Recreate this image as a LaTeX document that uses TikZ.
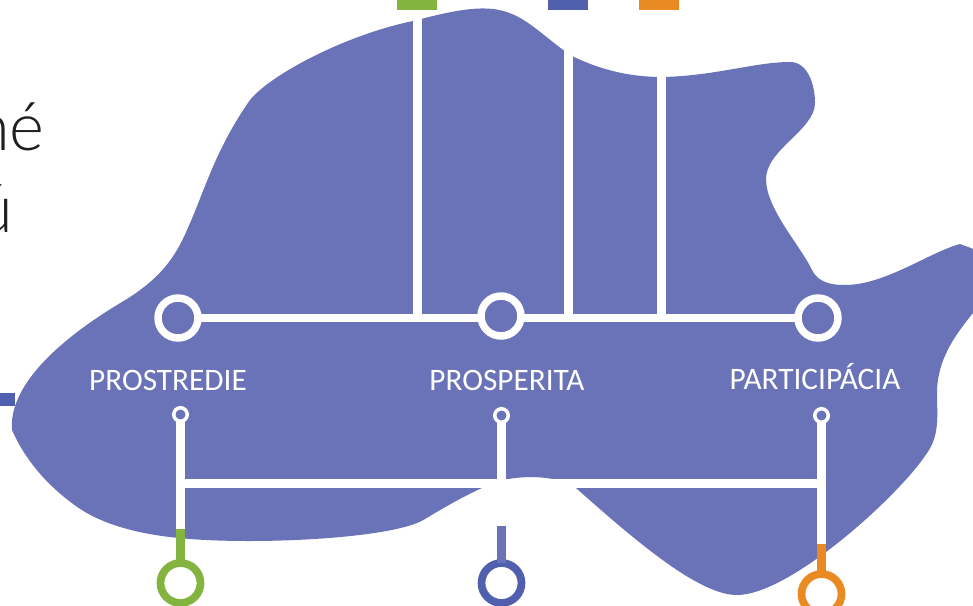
\documentclass[tikz,border=0pt]{standalone}
\usepackage{fontspec}
\setmainfont{Lato Light}
\newfontfamily\labelfont{Carlito}
\usepackage{tikz}
\definecolor{blob}{HTML}{6A73B8}
\definecolor{lgreen}{HTML}{84B440}
\definecolor{lblue}{HTML}{5060AE}
\definecolor{lorange}{HTML}{E98B22}
\tikzset{
  bigring/.style={circle,draw=white,line width=4.25pt,minimum size=0.8cm,inner sep=0pt,outer sep=0pt},
  smallring/.style={circle,draw=white,line width=2pt,minimum size=0.27cm,inner sep=0pt,outer sep=0pt},
  endring/.style={circle,draw=#1,line width=4.4pt,minimum size=0.8cm,inner sep=0pt,outer sep=0pt},
  wline/.style={white,line width=5.1pt},
  label/.style={white,font=\labelfont\fontsize{17.8}{19}\selectfont},
  bigtext/.style={anchor=base east,inner sep=0pt,text=black!88,font=\fontsize{38}{44}\selectfont},
}
\begin{document}
\begin{tikzpicture}[x=0.02cm,y=-0.02cm]
\clip (0,0) rectangle (973,605);
\fill[white] (0,0) rectangle (973,605);
\fill[blob] (12,428) .. controls (10,395) and (40,350) .. (127,299)
.. controls (160,278) and (175,258) .. (187,230)
.. controls (205,190) and (215,150) .. (250,100)
.. controls (270,75) and (345,35) .. (413,21)
.. controls (440,14) and (465,8) .. (485,8.5)
.. controls (520,9) and (535,30) .. (570,55)
.. controls (600,70) and (630,77) .. (662,77)
.. controls (715,76) and (755,62) .. (790,62)
.. controls (808,62) and (815,85) .. (815,103)
.. controls (815,130) and (765,150) .. (766,180)
.. controls (767,210) and (800,245) .. (812,270)
.. controls (818,282) and (830,285) .. (845,285)
.. controls (885,285) and (930,252) .. (960,244)
.. controls (975,250) and (985,250) .. (985,270)
.. controls (985,290) and (985,298) .. (973,313)
.. controls (955,335) and (937,360) .. (937,393)
.. controls (937,415) and (940,435) .. (927,453)
.. controls (900,495) and (790,595) .. (737,595)
.. controls (700,595) and (640,545) .. (576,488)
.. controls (560,475) and (510,472) .. (482,488)
.. controls (460,498) and (440,510) .. (425,519)
.. controls (400,535) and (310,541) .. (250,541)
.. controls (180,541) and (125,535) .. (85,512)
.. controls (50,490) and (25,460) .. (12,430) -- cycle;
\fill[lgreen] (397,0) rectangle (437,10);
\fill[lblue] (548,0) rectangle (588,10);
\fill[lorange] (639,0) rectangle (679,10);
\fill[lblue] (0,393) rectangle (15,406);
\node[bigtext] (ne) at (45,150) {né};
\node[bigtext] (u) at (14,232) {ú};
\node[bigring] (p1) at (178,318) {};
\node[bigring] (p2) at (501,316) {};
\node[bigring] (p3) at (818,318) {};
\node[label] (l1) at (168,380) {PROSTREDIE};
\node[label] (l2) at (507,380) {PROSPERITA};
\node[label] (l3) at (815,377) {PARTICIPÁCIA};
\node[smallring] (s1) at (180.5,414.5) {};
\node[smallring] (s2) at (501.5,415.5) {};
\node[smallring] (s3) at (821.5,415.5) {};
\node[endring=lgreen] (e1) at (180.5,583) {};
\node[endring=lblue] (e2) at (501.5,583) {};
\node[endring=lorange] (e3) at (821.5,594) {};
\coordinate (t1) at (417.5,12);
\coordinate (t2) at (568.5,30);
\coordinate (t3) at (661.5,60);
\coordinate (j1) at (180.5,483.5);
\coordinate (j2) at (501.5,483.5);
\coordinate (j3) at (821.5,483.5);
\coordinate (c1) at (180.5,529);
\coordinate (c2) at (501.5,526);
\coordinate (c3) at (821.5,544);
\draw[wline] (p1) -- (p1 -| p2.west);
\draw[wline] (p1 -| p2.east) -- (p3);
\draw[wline] (t1) -- (t1 |- p1);
\draw[wline] (t2) -- (t2 |- p1);
\draw[wline] (t3) -- (t3 |- p1);
\draw[wline] (j1) -- (j3);
\draw[wline] (s1) -- (c1);
\draw[wline] (s2) -- (j2);
\draw[wline] (s3) -- (c3);
\draw[blob,line width=5.1pt] (c2) -- (e2);
\draw[lgreen,line width=5.5pt] (c1) -- (e1);
\draw[lorange,line width=5.1pt] (c3) -- (e3);
\end{tikzpicture}
\end{document}
